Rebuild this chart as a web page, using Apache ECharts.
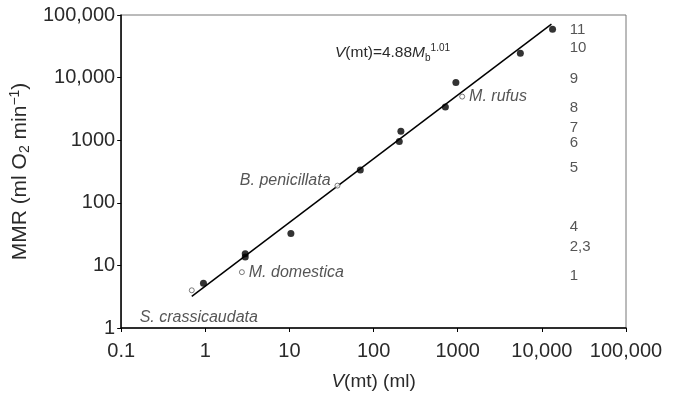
<!DOCTYPE html>
<html>
<head>
<meta charset="utf-8">
<script src="https://cdn.jsdelivr.net/npm/echarts@6/dist/echarts.min.js"></script>
<style>
  html, body { margin: 0; padding: 0; background: #fff; }
  #chart { width: 683px; height: 396px; }
</style>
</head>
<body>
<div id="chart"></div>
<script>
// filled points: [V(mt), MMR]
const filledPoints = [
  [0.95, 5.2], [2.98, 15.3], [2.98, 13.6], [10.4, 32.4], [69.5, 334],
  [202, 955], [211, 1386], [713, 3398], [951, 8330], [5550, 24400], [13400, 59000]
];
// open points with species names
const openPoints = [
  [0.69, 4.0], [2.72, 7.8], [37.2, 188], [1130, 4970]
];
const openNames = ['S. crassicaudata', 'M. domestica', 'B. penicillata', 'M. rufus'];
// regression line end points
const fitLine = [[0.69, 3.2], [13000, 71600]];
// numbers at the right side
const idLabels = ['11', '10', '9', '8', '7', '6', '5', '4', '2,3', '1'];
const idLabelY = [58400, 29500, 9720, 3310, 1560, 912, 359, 41.7, 19.6, 6.7];
const idLabelX = 21400;

const xTicks = { 0.1: '0.1', 1: '1', 10: '10', 100: '100', 1000: '1000', 10000: '10,000', 100000: '100,000' };
const yTicks = { 1: '1', 10: '10', 100: '100', 1000: '1000', 10000: '10,000', 100000: '100,000' };

function tickLabel(map, v) {
  const key = Object.keys(map).find(k => Math.abs(Math.log10(+k) - Math.log10(v)) < 1e-6);
  return key ? map[key] : '';
}

const font = 'Liberation Sans, Arial, sans-serif';
const textColor = '#2a2a2a';

const chart = echarts.init(document.getElementById('chart'));

// label placement for each species
const openLabelPos = [
  { position: 'bottom', offset: [7, 12] },
  { position: 'right', offset: [0, 0] },
  { position: 'left', offset: [0, -5] },
  { position: 'right', offset: [0, 0] }
];

const option = {
  animation: false,
  grid: {
    left: 117, right: 57, top: 15, bottom: 60,
    show: true, borderColor: '#777', borderWidth: 1
  },
  xAxis: {
    type: 'log', logBase: 10, min: 0.1, max: 100000,
    name: '{i|V}{n|(mt) (ml)}',
    nameLocation: 'middle', nameGap: 44,
    nameTextStyle: {
      rich: {
        i: { fontFamily: font, fontSize: 19, fontStyle: 'italic', color: textColor },
        n: { fontFamily: font, fontSize: 19, color: textColor }
      }
    },
    axisLine: { lineStyle: { color: '#000', width: 1.5 } },
    axisTick: { show: true, length: 4, lineStyle: { color: '#000' } },
    minorTick: { show: false },
    splitLine: { show: false },
    axisLabel: {
      fontFamily: font, fontSize: 20, color: textColor, margin: 13,
      formatter: v => tickLabel(xTicks, v)
    }
  },
  yAxis: {
    type: 'log', logBase: 10, min: 1, max: 100000,
    name: '{n|MMR (ml O}{sub|2}{n| min}{sup|−1}{n|)}',
    nameLocation: 'middle', nameGap: 85,
    nameTextStyle: {
      rich: {
        n: { fontFamily: font, fontSize: 21, color: textColor, lineHeight: 24 },
        sub: { fontFamily: font, fontSize: 14, color: textColor, verticalAlign: 'bottom', lineHeight: 14 },
        sup: { fontFamily: font, fontSize: 14, color: textColor, verticalAlign: 'top', lineHeight: 14 }
      }
    },
    axisLine: { lineStyle: { color: '#000', width: 1.5 } },
    axisTick: { show: true, length: 4, lineStyle: { color: '#000' } },
    splitLine: { show: false },
    axisLabel: {
      fontFamily: font, fontSize: 20, color: textColor, margin: 6,
      formatter: v => tickLabel(yTicks, v)
    }
  },
  series: [
    {
      type: 'line',
      data: fitLine,
      symbol: 'none',
      lineStyle: { color: '#000', width: 1.5 },
      z: 2
    },
    {
      type: 'scatter',
      data: filledPoints,
      symbol: 'circle',
      symbolSize: 7,
      itemStyle: { color: '#000' },
      z: 3
    },
    {
      type: 'scatter',
      data: openPoints.map((p, i) => ({
        value: p,
        name: openNames[i],
        label: openLabelPos[i]
      })),
      symbol: 'circle',
      symbolSize: 5,
      itemStyle: { color: '#fff', borderColor: '#333', borderWidth: 0.8 },
      label: {
        show: true,
        formatter: '{b}',
        fontFamily: font, fontSize: 16, fontStyle: 'italic', color: textColor,
        distance: 4
      },
      z: 4
    },
    {
      type: 'scatter',
      data: idLabelY.map((y, i) => ({ value: [idLabelX, y], name: idLabels[i] })),
      symbolSize: 0,
      silent: true,
      label: {
        show: true,
        position: 'right',
        distance: 0,
        formatter: '{b}',
        fontFamily: font, fontSize: 15, color: textColor
      }
    }
  ],
  graphic: [
    {
      type: 'text',
      left: 335, top: 43,
      style: {
        text: '{i|V}{n|(mt)=4.88}{i|M}{sub|b}{sup|1.01}',
        rich: {
          i: { fontFamily: font, fontSize: 15.5, fontStyle: 'italic', fill: textColor, lineHeight: 20 },
          n: { fontFamily: font, fontSize: 15.5, fill: textColor, lineHeight: 20 },
          sub: { fontFamily: font, fontSize: 10, fill: textColor, verticalAlign: 'bottom', lineHeight: 12 },
          sup: { fontFamily: font, fontSize: 10, fill: textColor, verticalAlign: 'top', lineHeight: 12 }
        }
      }
    }
  ]
};

chart.setOption(option);
</script>
</body>
</html>
